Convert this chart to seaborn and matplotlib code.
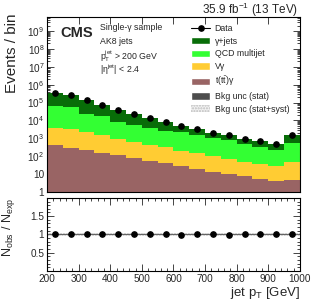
import matplotlib
matplotlib.use("Agg")
import matplotlib.pyplot as plt
import matplotlib.ticker as mticker
from matplotlib.lines import Line2D
from matplotlib.patches import Patch
import numpy as np
import pandas as pd
import seaborn as sns

# Binning in jet pT (GeV)
bin_edges = np.arange(200, 1001, 50)
bin_centers = 0.5 * (bin_edges[:-1] + bin_edges[1:])

# Yields per bin
ttgamma = [450, 300, 225, 160, 118, 83, 58, 41, 27, 20, 14, 10.7, 7.6, 5.4, 4.0, 5.0]
vgamma = [3270, 3090, 2010, 1320, 840, 550, 390, 270, 177, 125, 93, 57, 42, 32, 23, 40]
qcd = [56500, 50300, 20700, 17100, 7750, 5000, 3270, 2200, 1930, 1330, 940, 730, 460, 300, 210, 520]
gjets = [263000, 197500, 118000, 52000, 31000, 16300, 10100, 5800, 2900, 1830, 1000, 690, 440, 350, 250, 920]
data = [323600, 251200, 141300, 70800, 39800, 21900, 13800, 8320, 5010, 3310, 2040, 1480, 955, 692, 490, 1480]

# Relative background uncertainties in the ratio panel
unc_stat = [0.012] * 16
unc_total = [0.045] * 16

labels = ["Data", "γ+jets", "QCD multijet", "Vγ", r"t(t$\mathregular{\bar{t}}$)γ",
          "Bkg unc (stat)", "Bkg unc (stat+syst)"]
colors = {"gjets": "#086d08", "qcd": "#33ff33", "vgamma": "#ffcc33", "tt": "#996464",
          "stat": "#4d4d4d", "syst": "#bdbdbd"}

sns.set_theme(style="ticks")
plt.rcParams["font.family"] = ["Liberation Sans", "DejaVu Sans"]
plt.rcParams["mathtext.fontset"] = "custom"
plt.rcParams["mathtext.rm"] = "Liberation Sans"
plt.rcParams["mathtext.it"] = "Liberation Sans:italic"
plt.rcParams["mathtext.bf"] = "Liberation Sans:bold"

fig = plt.figure(figsize=(3.16, 3.03), dpi=100)
ax = fig.add_axes([0.149, 0.366, 0.80, 0.578])
rax = fig.add_axes([0.149, 0.106, 0.80, 0.241])

# stacked backgrounds, drawn from the total down
layers = np.cumsum([ttgamma, vgamma, qcd, gjets], axis=0)
layer_colors = [colors["tt"], colors["vgamma"], colors["qcd"], colors["gjets"]]
for heights, col in zip(layers[::-1], layer_colors[::-1]):
    df = pd.DataFrame({"pt": bin_centers, "w": heights})
    sns.histplot(data=df, x="pt", weights="w", binwidth=50, binrange=(200, 1000),
                 element="step", fill=True, color=col, alpha=1, linewidth=0, ax=ax)
total = layers[-1]

data = np.array(data, dtype=float)
ax.errorbar(bin_centers, data, yerr=np.sqrt(data), fmt="o", color="black",
            ms=3.8, elinewidth=0.8, capsize=0, zorder=5)

ax.set_yscale("log")
ax.set_xlim(200, 1000)
ax.set_ylim(1, 6e9)
ax.yaxis.set_major_locator(mticker.LogLocator(base=10, numticks=20))
ax.yaxis.set_minor_locator(mticker.LogLocator(base=10, subs=np.arange(2, 10), numticks=20))


def log_fmt(v, _):
    n = int(round(np.log10(v)))
    if n == 0:
        return "1"
    if n == 1:
        return "10"
    return r"$\mathregular{10^{%d}}$" % n


ax.yaxis.set_major_formatter(mticker.FuncFormatter(log_fmt))
ax.set_xticklabels([])
ax.set_xlabel("")
ax.set_ylabel("Events / bin", fontsize=11, loc="top")
ax.yaxis.set_label_coords(-0.112, 1.02)

# ratio panel
ratio = data / total
edges_step = np.append(bin_edges[:-1], bin_edges[-1])
syst_lo = np.append(1 - np.array(unc_total), 1 - unc_total[-1])
syst_hi = np.append(1 + np.array(unc_total), 1 + unc_total[-1])
stat_lo = np.append(1 - np.array(unc_stat), 1 - unc_stat[-1])
stat_hi = np.append(1 + np.array(unc_stat), 1 + unc_stat[-1])
rax.fill_between(edges_step, syst_lo, syst_hi, step="post", facecolor="#f2f2f2",
                 edgecolor=colors["syst"], hatch="......", linewidth=0)
rax.fill_between(edges_step, stat_lo, stat_hi, step="post", color=colors["stat"],
                 linewidth=0, alpha=0.85)
rax.errorbar(bin_centers, ratio, yerr=1 / np.sqrt(data), fmt="o", color="black",
             ms=3.8, elinewidth=0.8, capsize=0, zorder=5)
rax.set_xlim(200, 1000)
rax.set_ylim(0, 2)
rax.set_yticks([0.5, 1, 1.5])
rax.set_yticklabels(["0.5", "1", "1.5"])
rax.yaxis.set_minor_locator(mticker.MultipleLocator(0.1))
rax.xaxis.set_major_locator(mticker.MultipleLocator(100))
rax.xaxis.set_minor_locator(mticker.MultipleLocator(20))
rax.set_ylabel(r"$\mathregular{N_{obs}\ /\ N_{exp}}$", fontsize=9, loc="top")
rax.yaxis.set_label_coords(-0.12, 1.0)
rax.set_xlabel(r"jet $\mathregular{p_{T}}$ [GeV]", fontsize=9.5, loc="right")
rax.xaxis.set_label_coords(1.0, -0.2)

for a in (ax, rax):
    a.tick_params(which="both", direction="in", top=True, right=True,
                  labelsize=7.2, width=0.6, pad=2)
    a.tick_params(which="major", length=5)
    a.tick_params(which="minor", length=2.5)
    for s in a.spines.values():
        s.set_linewidth(0.8)
        s.set_color("black")

# legend
handles = [
    Line2D([], [], color="black", marker="o", ms=3.8, lw=0.8),
    Patch(facecolor=colors["gjets"]),
    Patch(facecolor=colors["qcd"]),
    Patch(facecolor=colors["vgamma"]),
    Patch(facecolor=colors["tt"]),
    Patch(facecolor=colors["stat"]),
    Patch(facecolor="#f2f2f2", edgecolor=colors["syst"], hatch="......", linewidth=0),
]
leg = ax.legend(handles, labels, loc="upper left", bbox_to_anchor=(191 / 316, 1 - 24 / 303),
                bbox_transform=fig.transFigure, frameon=False, fontsize=6.3,
                handlelength=2.2, handleheight=0.9, handletextpad=0.5, labelspacing=0.42,
                borderpad=0, borderaxespad=0)

fig.text(60 / 316, 1 - 33 / 303, "CMS", fontsize=10.5, fontweight="bold", ha="left", va="center")
extra = ["Single-γ sample", "AK8 jets", r"$\mathregular{p_{T}^{jet}}$ > 200 GeV",
         r"|$\mathregular{\eta^{jet}}$| < 2.4"]
for i, txt in enumerate(extra):
    fig.text(100 / 316, 1 - (28 + 14 * i) / 303, txt, fontsize=6.3, ha="left", va="center")

fig.text(0.943, 1 - 10 / 303, r"35.9 fb$\mathregular{^{-1}}$ (13 TeV)", fontsize=8.5,
         ha="right", va="center")

fig.savefig("out.png", dpi=100)
